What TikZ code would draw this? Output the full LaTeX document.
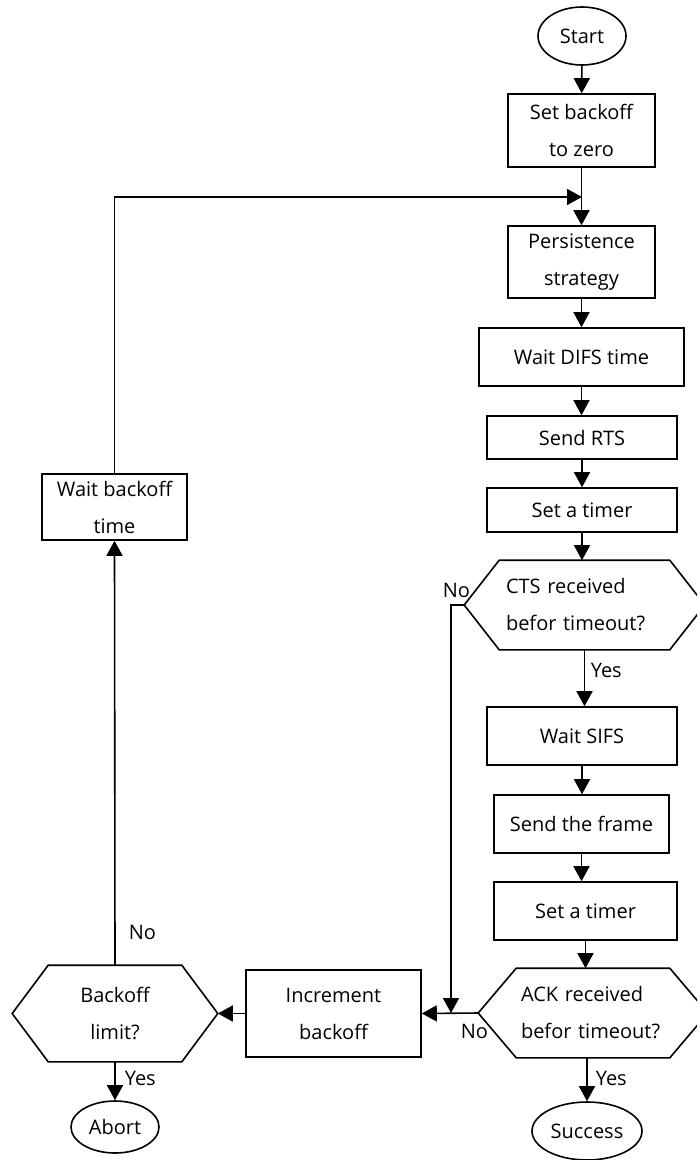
\documentclass[tikz,border=0pt]{standalone}
\usepackage{fontspec}
\setmainfont{Open Sans}
\usetikzlibrary{arrows.meta,shapes.geometric}
\begin{document}
\begin{tikzpicture}[x=1pt, y=-1pt, line width=1.6pt,
  txt/.style={font=\fontsize{20}{37}\selectfont},
  box/.style={txt, draw, rectangle, inner sep=2pt, align=center},
  term/.style={txt, draw, ellipse, inner sep=0pt},
  hexbox/.style={txt, rectangle, inner ysep=0pt},
  arr/.style={-{Triangle[length=15pt,width=16pt]}},
  lbl/.style={font=\fontsize{20}{24}\selectfont, inner sep=0pt}
]
\useasboundingbox (0,0) rectangle (697,1160);
\clip (0,0) rectangle (697,1160);

% main column
\node[term, minimum width=88pt, minimum height=58pt] (start) at (582,36) {Start};
\node[box, minimum width=147pt, minimum height=73pt] (setzero) at (581.5,130.5) {Set backoff\\to zero};
\node[box, minimum width=147pt, minimum height=72pt] (persist) at (581.5,262) {Persistence\\strategy};
\node[box, minimum width=205pt, minimum height=58pt] (difs) at (581.5,357) {Wait DIFS time};
\node[box, minimum width=190pt, minimum height=43pt] (rts) at (582,437.5) {Send RTS};
\node[box, minimum width=190pt, minimum height=44pt] (timera) at (582,510) {Set a timer};
\node[hexbox, inner xsep=41pt, text width=157pt, minimum height=88pt, align=left] (cts) at (584.5,605) {CTS received\\befor timeout?};
\node[box, minimum width=190pt, minimum height=58pt] (sifs) at (582,736) {Wait SIFS};
\node[box, minimum width=175pt, minimum height=58pt] (frame) at (581.5,824) {Send the frame};
\node[box, minimum width=183pt, minimum height=58pt] (timerb) at (585.5,911) {Set a timer};
\node[hexbox, inner xsep=42pt, text width=144pt, minimum height=88pt, align=left] (ack) at (593,1013) {ACK received\\befor timeout?};
\node[term, minimum width=110pt, minimum height=58pt] (success) at (587,1131) {Success};

% retry branch
\node[box, minimum width=175pt, minimum height=87pt] (incr) at (333.5,1013.5) {Increment\\backoff};
\node[hexbox, minimum width=204pt, minimum height=95pt, align=center] (limit) at (115,1013.5) {Backoff\\limit?};
\node[term, minimum width=88pt, minimum height=52pt] (abort) at (115,1127) {Abort};
\node[box, minimum width=145pt, minimum height=66pt] (waitbo) at (114.5,507) {Wait backoff\\time};

% hexagonal decision outlines
\draw (cts.west) -- ([xshift=35pt]cts.north west) -- ([xshift=-35pt]cts.north east)
  -- (cts.east) -- ([xshift=-35pt]cts.south east) -- ([xshift=35pt]cts.south west) -- cycle;
\draw (ack.west) -- ([xshift=38pt]ack.north west) -- ([xshift=-38pt]ack.north east)
  -- (ack.east) -- ([xshift=-38pt]ack.south east) -- ([xshift=38pt]ack.south west) -- cycle;
\draw (limit.west) -- ([xshift=36pt]limit.north west) -- ([xshift=-36pt]limit.north east)
  -- (limit.east) -- ([xshift=-36pt]limit.south east) -- ([xshift=36pt]limit.south west) -- cycle;

% junction points
\coordinate (loopin) at (582,197);
\coordinate (nojoin) at (451,1013);

% main flow
\draw[arr] (start) -- (setzero);
\draw[arr] (setzero) -- (persist);
\draw[arr] (persist.south) -- (persist.south |- difs.north);
\draw[arr] (difs.south) -- (difs.south |- rts.north);
\draw[arr] (rts) -- (timera);
\draw[arr] (timera.south) -- (timera.south |- cts.north);
\draw[arr] (cts.south) -- (cts.south |- sifs.north);
\draw[arr] (sifs.south) -- (sifs.south |- frame.north);
\draw[arr] (frame.south) -- (frame.south |- timerb.north);
\draw[arr] (timerb.south) -- (timerb.south |- ack.north);
\draw[arr] (success.north |- ack.south) -- (success.north);

% failure paths
\draw[arr] (cts.west) -| (nojoin);
\draw[arr] (ack.west) -- (incr.east);
\draw[arr] (incr.west) -- (limit.east);
\draw[arr] (limit.south) -- (abort.north);
\draw[arr] (limit.north) -- (waitbo.south);
\draw[arr] (waitbo.north) |- (loopin);

% branch labels
\node[lbl, anchor=base west] (ctsno) at (442,597) {No};
\node[lbl, anchor=base west] (ctsyes) at (590,677) {Yes};
\node[lbl, anchor=base west] (ackno) at (460,1038) {No};
\node[lbl, anchor=base west] (ackyes) at (595,1085) {Yes};
\node[lbl, anchor=base west] (limitno) at (128,939) {No};
\node[lbl, anchor=base west] (limityes) at (124,1085) {Yes};
\end{tikzpicture}
\end{document}
